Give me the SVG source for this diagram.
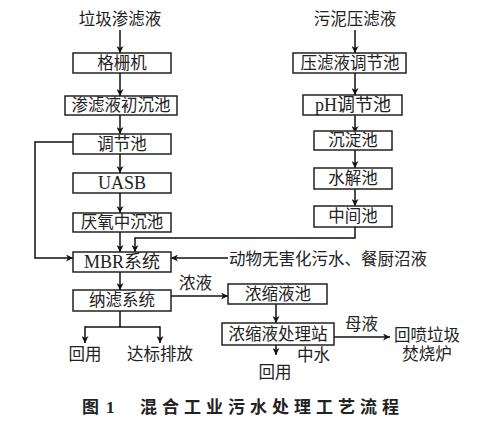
<svg xmlns="http://www.w3.org/2000/svg" width="483" height="422" viewBox="0 0 483 422">
<defs>
<marker id="ah" viewBox="0 0 10 10" refX="10" refY="5" markerWidth="7" markerHeight="7" markerUnits="userSpaceOnUse" orient="auto">
<path d="M0,0 L10,5 L0,10 L3,5 Z" fill="#111"/>
</marker>
<style>
.b{fill:#fff;stroke:#222;stroke-width:1.5}
.t{font-family:"Liberation Serif","Noto Sans CJK SC",serif;font-size:16.5px;fill:#222;text-anchor:middle}
.l{font-family:"Liberation Serif","Noto Sans CJK SC",serif;font-size:16.5px;fill:#222}
.c{fill:none;stroke:#111;stroke-width:1.5}
.cap{font-family:"Liberation Serif","Noto Sans CJK SC",serif;font-size:17px;font-weight:bold;fill:#222}
.big{font-size:18px}
</style>
</defs>
<rect width="483" height="422" fill="#fff"/>
<g id="connectors">
<path class="c" d="M120,30 V53" marker-end="url(#ah)"/>
<path class="c" d="M120,73 V96" marker-end="url(#ah)"/>
<path class="c" d="M120,115 V134" marker-end="url(#ah)"/>
<path class="c" d="M120,154 V173" marker-end="url(#ah)"/>
<path class="c" d="M120,193 V213" marker-end="url(#ah)"/>
<path class="c" d="M120,232 V252" marker-end="url(#ah)"/>
<path class="c" d="M73,142 H35 V258 H73" marker-end="url(#ah)"/>
<path class="c" d="M355,227 V238 H135 V252" marker-end="url(#ah)"/>
<path class="c" d="M228,258 H171" marker-end="url(#ah)"/>
<path class="c" d="M120,272 V290" marker-end="url(#ah)"/>
<path class="c" d="M120,311 V327"/>
<path class="c" d="M85,327 H160"/>
<path class="c" d="M85,326.3 V343" marker-end="url(#ah)"/>
<path class="c" d="M160,326.3 V343" marker-end="url(#ah)"/>
<path class="c" d="M171,296 H228" marker-end="url(#ah)"/>
<path class="c" d="M276,304 V323" marker-end="url(#ah)"/>
<path class="c" d="M334,337 H390" marker-end="url(#ah)"/>
<path class="c" d="M276,345 V355" marker-end="url(#ah)"/>
<path class="c" d="M355,30 V53" marker-end="url(#ah)"/>
<path class="c" d="M355,73 V95" marker-end="url(#ah)"/>
<path class="c" d="M355,115 V133" marker-end="url(#ah)"/>
<path class="c" d="M355,150 V168" marker-end="url(#ah)"/>
<path class="c" d="M355,189 V206" marker-end="url(#ah)"/>
</g>
<g id="src1"><text class="t" x="120" y="25">垃圾渗滤液</text></g>
<g id="src2"><text class="t" x="355" y="25">污泥压滤液</text></g>
<g id="n1"><rect class="b" x="73" y="53" width="98" height="20"/><text class="t" x="122" y="69">格栅机</text></g>
<g id="n2"><rect class="b" x="65" y="96" width="112" height="19"/><text class="t" x="121" y="111">渗滤液初沉池</text></g>
<g id="n3"><rect class="b" x="73" y="134" width="98" height="20"/><text class="t" x="122" y="150">调节池</text></g>
<g id="n4"><rect class="b" x="73" y="173" width="98" height="20"/><text class="t big" x="122" y="189">UASB</text></g>
<g id="n5"><rect class="b" x="73" y="213" width="98" height="19"/><text class="t" x="122" y="228">厌氧中沉池</text></g>
<g id="n6"><rect class="b" x="73" y="252" width="98" height="20"/><text class="t big" x="122" y="268">MBR系统</text></g>
<g id="n7"><rect class="b" x="73" y="290" width="98" height="21"/><text class="t" x="122" y="306">纳滤系统</text></g>
<g id="n8"><rect class="b" x="228" y="284" width="99" height="20"/><text class="t" x="278" y="300">浓缩液池</text></g>
<g id="n9"><rect class="b" x="222" y="323" width="112" height="22"/><text class="t" x="278" y="340">浓缩液处理站</text></g>
<g id="r1"><rect class="b" x="293" y="53" width="113" height="20"/><text class="t" x="350" y="69">压滤液调节池</text></g>
<g id="r2"><rect class="b" x="303" y="95" width="99" height="20"/><text class="t big" x="353" y="111">pH调节池</text></g>
<g id="r3"><rect class="b" x="314" y="131" width="78" height="19"/><text class="t" x="353" y="146">沉淀池</text></g>
<g id="r4"><rect class="b" x="314" y="168" width="78" height="21"/><text class="t" x="353" y="184">水解池</text></g>
<g id="r5"><rect class="b" x="314" y="206" width="78" height="21"/><text class="t" x="353" y="222">中间池</text></g>
<g id="labels">
<text class="l" x="229" y="265">动物无害化污水、餐厨沼液</text>
<text class="l" x="179" y="289">浓液</text>
<text class="t" x="85" y="360">回用</text>
<text class="t" x="160" y="360">达标排放</text>
<text class="l" x="345" y="330">母液</text>
<text class="t" x="427" y="341">回喷垃圾</text>
<text class="t" x="427" y="360">焚烧炉</text>
<text class="l" x="297" y="361">中水</text>
<text class="t" x="275" y="378">回用</text>
</g>
<g id="caption">
<text class="cap" x="82" y="413">图<tspan x="106">1</tspan></text>
<text class="cap" x="140" y="413" letter-spacing="5">混合工业污水处理工艺流程</text>
</g>
</svg>
